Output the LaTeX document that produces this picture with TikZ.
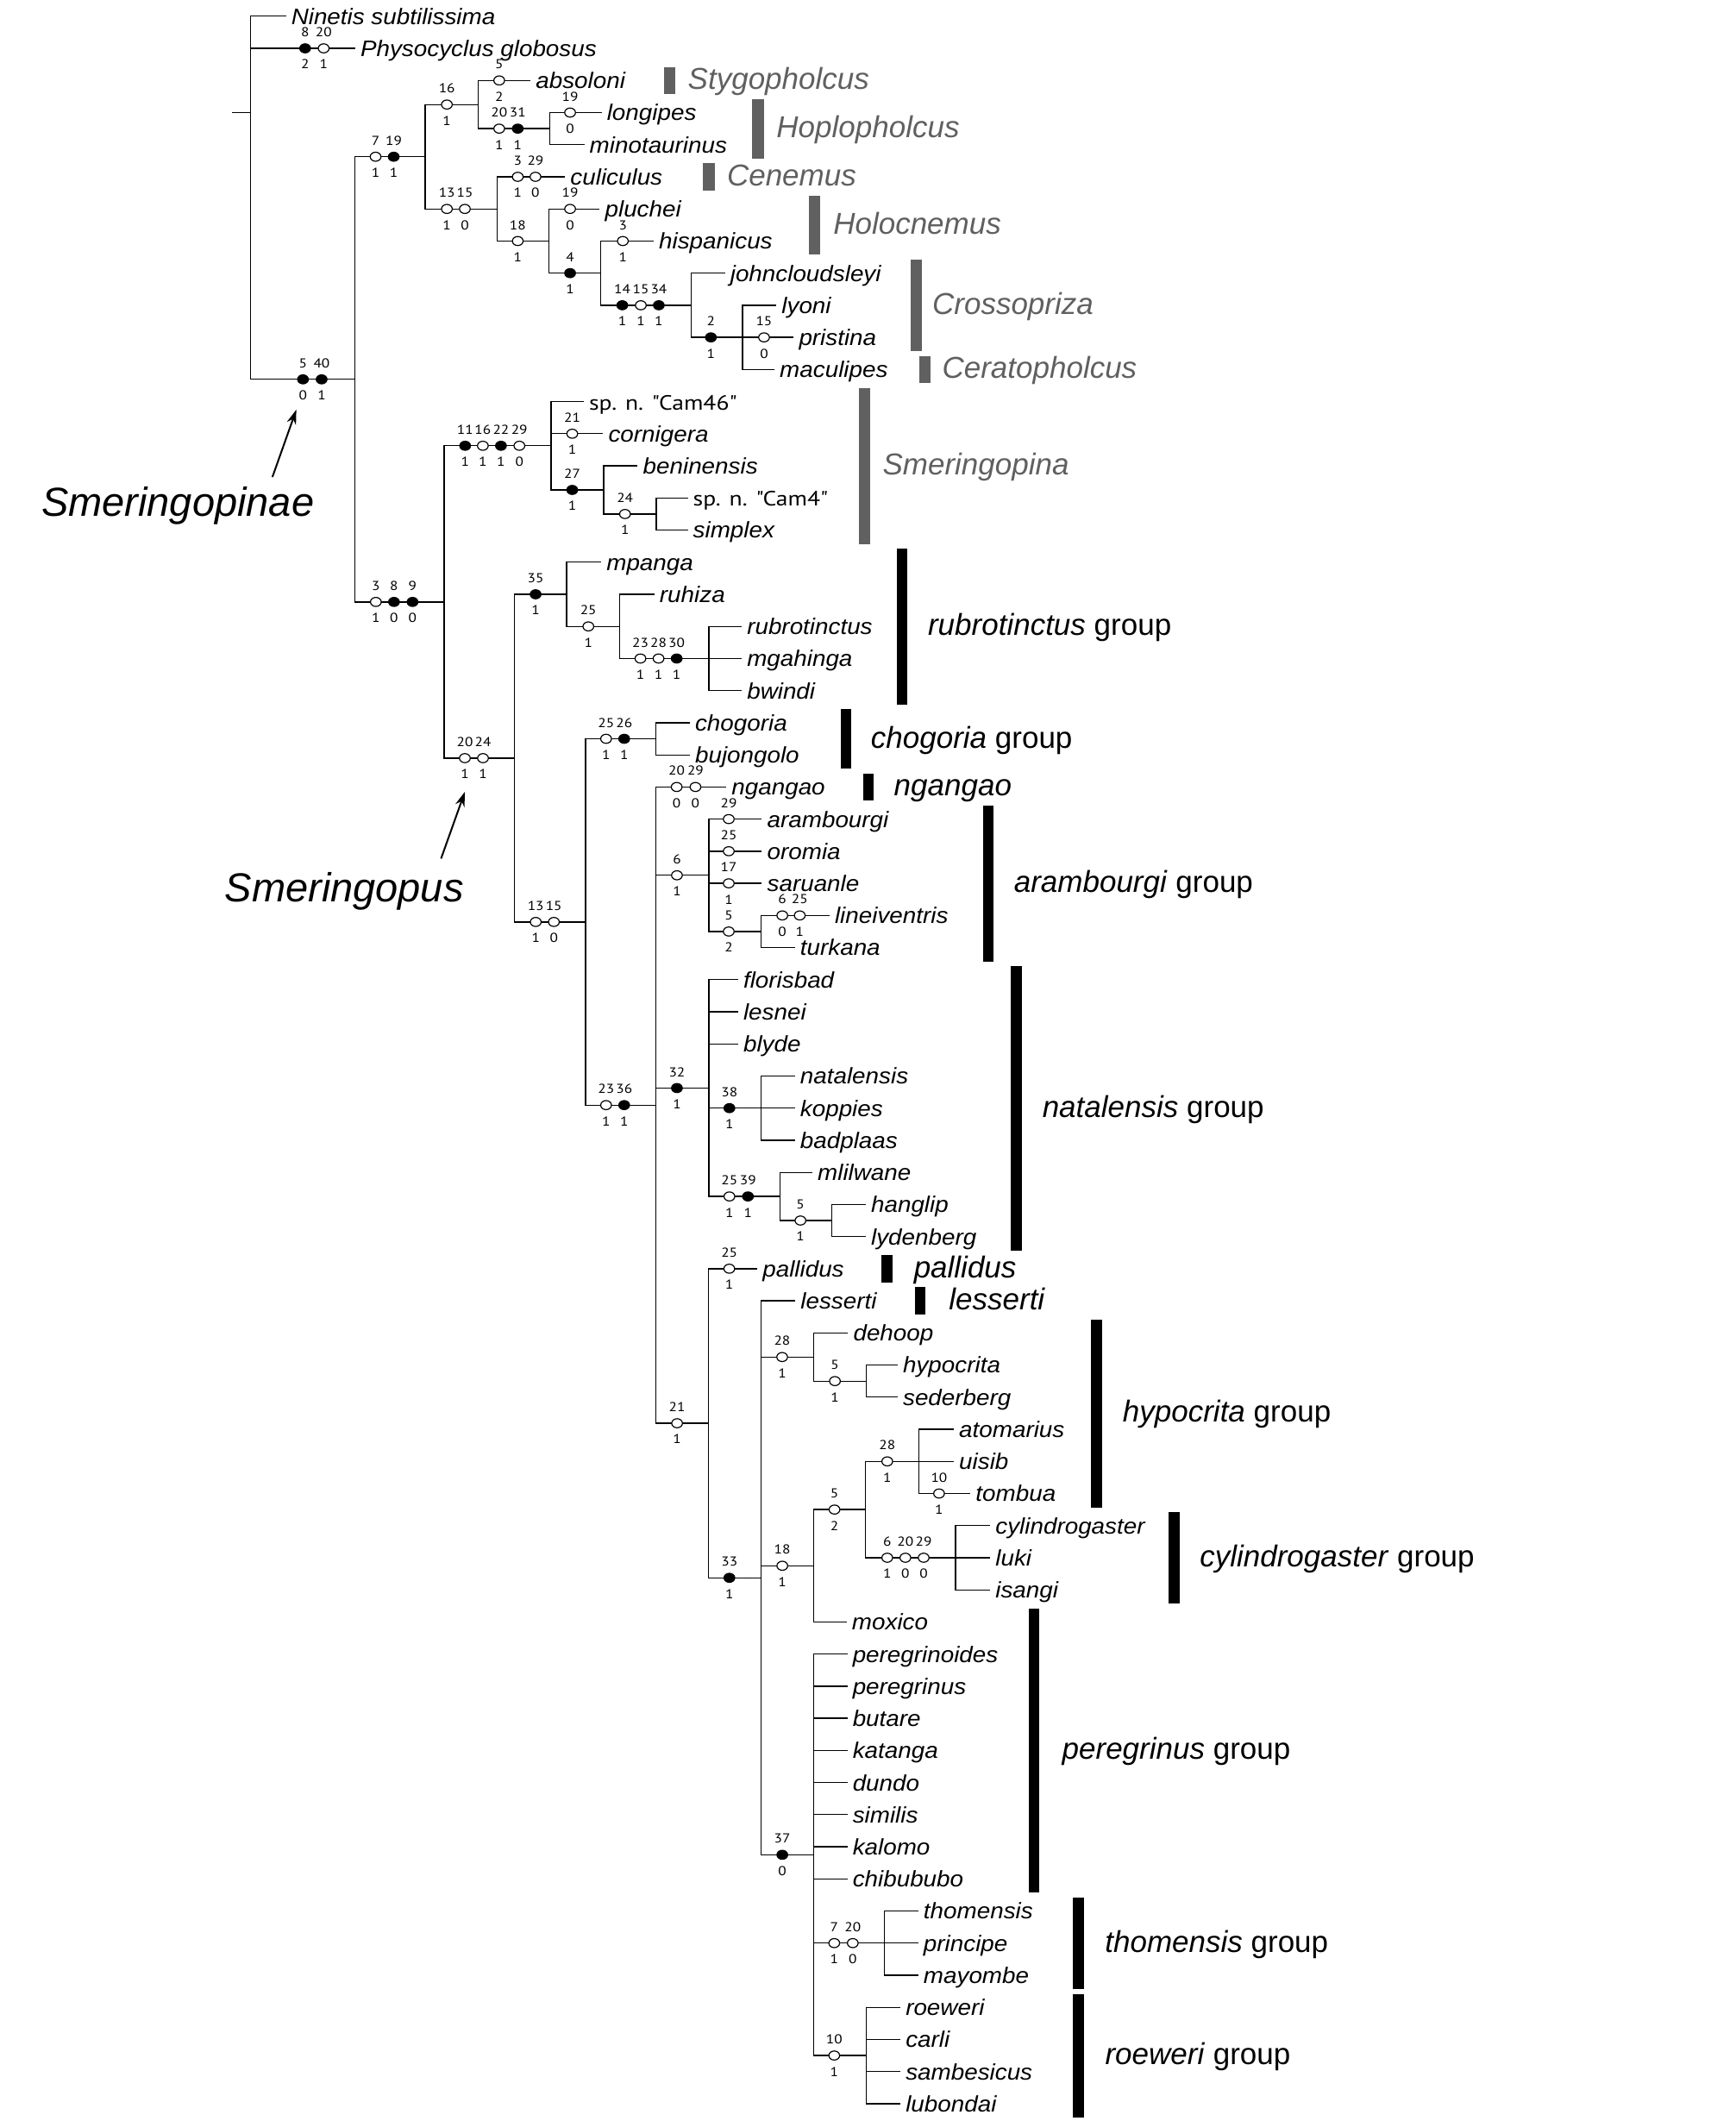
\documentclass[tikz,border=0pt]{standalone}
\usepackage{fontspec}
\setmainfont{Liberation Sans}
\newfontfamily\taxfont[FakeStretch=1.07]{Liberation Sans}
\newfontfamily\numfont[FakeStretch=1.15]{PT Sans}
\usetikzlibrary{shapes.geometric,arrows.meta}
\definecolor{grpgrey}{HTML}{606060}

\newcounter{chg}
\newcommand{\chg}[5]{\stepcounter{chg}%
  \node[#1,label={[num,yshift=7.2pt]above:#4},label={[num,yshift=-7.2pt]below:#5}] (c\thechg) at (#2,#3) {};}
\newcommand{\chgt}[4]{\stepcounter{chg}%
  \node[#1,label={[num,yshift=7.2pt]above:#4}] (c\thechg) at (#2,#3) {};}
\newcommand{\leaf}[4]{\coordinate (#1) at (#2,#3);
  \node[taxon] (#1t) at (#1) {#4};}

\tikzset{
  br/.style={line width=1.3pt},
  opn/.style={ellipse,draw,fill=white,line width=1.2pt,minimum width=12.5pt,
    minimum height=10.5pt,inner sep=0pt},
  fil/.style={opn,fill=black},
  num/.style={font=\numfont\fontsize{15}{15}\selectfont,inner sep=0pt},
  taxon/.style={font=\taxfont\fontsize{26}{28}\selectfont\itshape,anchor=base west,
    inner sep=0pt,xshift=6pt,yshift=-9.4pt},
  grp/.style={font=\fontsize{35}{40}\selectfont,anchor=base west,inner sep=0pt,yshift=-10.5pt},
  big/.style={font=\fontsize{47}{50}\selectfont\itshape,anchor=base west,inner sep=0pt,yshift=-16.8pt},
  gbar/.style={fill=grpgrey},
  bbar/.style={fill=black},
  arr/.style={line width=2pt,-{Stealth[length=17pt,width=11pt]}}
}

\begin{document}
\begin{tikzpicture}[x=1.568pt,y=-37.224pt]
\useasboundingbox (0,-0.5055) rectangle (1283,65.54);

% inner nodes of the tree
\coordinate (stub) at (171.5,3);
\coordinate (root) at (185.2,3);
\coordinate (sinae) at (262.6,11.307);
\coordinate (nA) at (314.4,4.375);
\coordinate (n16) at (353.7,2.75);
\coordinate (n2031) at (406.4,3.5);
\coordinate (n1315a) at (367.4,6);
\coordinate (n18a) at (405.8,7);
\coordinate (n4) at (444.3,8);
\coordinate (n141534) at (510.9,9);
\coordinate (n2) at (548.9,10);
\coordinate (n389) at (328.3,18.238);
\coordinate (smina) at (407.4,13.375);
\coordinate (n27) at (446.4,14.75);
\coordinate (n24) at (485.2,15.5);
\coordinate (spus) at (380.4,23.102);
\coordinate (n35) at (418.9,18);
\coordinate (n25a) at (458.2,19);
\coordinate (n232830) at (524.2,20);
\coordinate (n1315b) at (432.9,28.203);
\coordinate (n2526) at (485.1,22.5);
\coordinate (n2336) at (485.1,33.906);
\coordinate (n6a) at (524.2,26.75);
\coordinate (n5a) at (562.8,28.5);
\coordinate (n32) at (524.2,33.375);
\coordinate (n38) at (562.8,34);
\coordinate (n2539) at (576.7,36.75);
\coordinate (n5b) at (615,37.5);
\coordinate (n21) at (524,43.8125);
\coordinate (n33) at (562.5,48.625);
\coordinate (n28a) at (601.7,41.75);
\coordinate (n5c) at (640.4,42.5);
\coordinate (n18b) at (601.6,48.25);
\coordinate (n5d) at (639.9,46.5);
\coordinate (n28b) at (679.3,45);
\coordinate (n62029) at (706.5,48);
\coordinate (n37) at (601.4,57.25);
\coordinate (n720) at (653.8,60);
\coordinate (n10) at (640.3,63.5);

% terminals
\leaf{ninetis}{211.4}{0}{Ninetis subtilissima}
\leaf{physo}{262.6}{1}{Physocyclus globosus}
\leaf{absoloni}{392.2}{2}{absoloni}
\leaf{longipes}{444.8}{3}{longipes}
\leaf{minotaurinus}{432}{4}{minotaurinus}
\leaf{culiculus}{417.8}{5}{culiculus}
\leaf{pluchei}{443.4}{6}{pluchei}
\leaf{hispanicus}{483.3}{7}{hispanicus}
\leaf{johncl}{536}{8}{johncloudsleyi}
\leaf{lyoni}{574}{9}{lyoni}
\leaf{pristina}{586.8}{10}{pristina}
\leaf{maculipes}{572.6}{11}{maculipes}
\leaf{cama}{431.6}{12}{\numfont\upshape\fontsize{24}{26}\selectfont sp. n. "Cam46"}
\leaf{cornigera}{445.9}{13}{cornigera}
\leaf{beninensis}{471.5}{14}{beninensis}
\leaf{camb}{508.5}{15}{\numfont\upshape\fontsize{24}{26}\selectfont sp. n. "Cam4"}
\leaf{simplex}{508.5}{16}{simplex}
\leaf{mpanga}{444.5}{17}{mpanga}
\leaf{ruhiza}{483.8}{18}{ruhiza}
\leaf{rubrotinctus}{548.4}{19}{rubrotinctus}
\leaf{mgahinga}{548.4}{20}{mgahinga}
\leaf{bwindi}{548.4}{21}{bwindi}
\leaf{chogoria}{510}{22}{chogoria}
\leaf{bujongolo}{510}{23}{bujongolo}
\leaf{ngangao}{537}{24}{ngangao}
\leaf{arambourgi}{563.3}{25}{arambourgi}
\leaf{oromia}{563.3}{26}{oromia}
\leaf{saruanle}{563.3}{27}{saruanle}
\leaf{lineiventris}{613.3}{28}{lineiventris}
\leaf{turkana}{587.7}{29}{turkana}
\leaf{florisbad}{545.7}{30}{florisbad}
\leaf{lesnei}{545.7}{31}{lesnei}
\leaf{blyde}{545.7}{32}{blyde}
\leaf{natalensis}{587.7}{33}{natalensis}
\leaf{koppies}{587.7}{34}{koppies}
\leaf{badplaas}{587.7}{35}{badplaas}
\leaf{mlilwane}{600.6}{36}{mlilwane}
\leaf{hanglip}{640.1}{37}{hanglip}
\leaf{lydenberg}{640.1}{38}{lydenberg}
\leaf{pallidus}{559.9}{39}{pallidus}
\leaf{lesserti}{588}{40}{lesserti}
\leaf{dehoop}{627}{41}{dehoop}
\leaf{hypocrita}{663.7}{42}{hypocrita}
\leaf{sederberg}{663.7}{43}{sederberg}
\leaf{atomarius}{705.2}{44}{atomarius}
\leaf{uisib}{705.2}{45}{uisib}
\leaf{tombua}{717.5}{46}{tombua}
\leaf{cylindrogaster}{732.1}{47}{cylindrogaster}
\leaf{luki}{732.1}{48}{luki}
\leaf{isangi}{732.1}{49}{isangi}
\leaf{moxico}{626}{50}{moxico}
\leaf{peregrinoides}{626.5}{51}{peregrinoides}
\leaf{peregrinus}{626.5}{52}{peregrinus}
\leaf{butare}{626.5}{53}{butare}
\leaf{katanga}{626.5}{54}{katanga}
\leaf{dundo}{626.5}{55}{dundo}
\leaf{similis}{626.5}{56}{similis}
\leaf{kalomo}{626.5}{57}{kalomo}
\leaf{chibububo}{626.5}{58}{chibububo}
\leaf{thomensis}{678.9}{59}{thomensis}
\leaf{principe}{678.9}{60}{principe}
\leaf{mayombe}{678.9}{61}{mayombe}
\leaf{roeweri}{665.7}{62}{roeweri}
\leaf{carli}{665.7}{63}{carli}
\leaf{sambesicus}{665.7}{64}{sambesicus}
\leaf{lubondai}{665.7}{65}{lubondai}

% branches
\draw[br] (stub) -- (root);
\draw[br] (root) |- (ninetis) (root) |- (physo) (root) |- (sinae);
\draw[br] (sinae) |- (nA) (sinae) |- (n389);
\draw[br] (nA) |- (n16) (nA) |- (n1315a);
\draw[br] (n16) |- (absoloni) (n16) |- (n2031);
\draw[br] (n2031) |- (longipes) (n2031) |- (minotaurinus);
\draw[br] (n1315a) |- (culiculus) (n1315a) |- (n18a);
\draw[br] (n18a) |- (pluchei) (n18a) |- (n4);
\draw[br] (n4) |- (hispanicus) (n4) |- (n141534);
\draw[br] (n141534) |- (johncl) (n141534) |- (n2);
\draw[br] (n2) |- (lyoni) (n2) |- (pristina) (n2) |- (maculipes);
\draw[br] (n389) |- (smina) (n389) |- (spus);
\draw[br] (smina) |- (cama) (smina) |- (cornigera) (smina) |- (n27);
\draw[br] (n27) |- (beninensis) (n27) |- (n24);
\draw[br] (n24) |- (camb) (n24) |- (simplex);
\draw[br] (spus) |- (n35) (spus) |- (n1315b);
\draw[br] (n35) |- (mpanga) (n35) |- (n25a);
\draw[br] (n25a) |- (ruhiza) (n25a) |- (n232830);
\draw[br] (n232830) |- (rubrotinctus) (n232830) |- (mgahinga) (n232830) |- (bwindi);
\draw[br] (n1315b) |- (n2526) (n1315b) |- (n2336);
\draw[br] (n2526) |- (chogoria) (n2526) |- (bujongolo);
\draw[br] (n2336) |- (ngangao) (n2336) |- (n6a) (n2336) |- (n32) (n2336) |- (n21);
\draw[br] (n6a) |- (arambourgi) (n6a) |- (oromia) (n6a) |- (saruanle) (n6a) |- (n5a);
\draw[br] (n5a) |- (lineiventris) (n5a) |- (turkana);
\draw[br] (n32) |- (florisbad) (n32) |- (lesnei) (n32) |- (blyde) (n32) |- (n38) (n32) |- (n2539);
\draw[br] (n38) |- (natalensis) (n38) |- (koppies) (n38) |- (badplaas);
\draw[br] (n2539) |- (mlilwane) (n2539) |- (n5b);
\draw[br] (n5b) |- (hanglip) (n5b) |- (lydenberg);
\draw[br] (n21) |- (pallidus) (n21) |- (n33);
\draw[br] (n33) |- (lesserti) (n33) |- (n28a) (n33) |- (n18b) (n33) |- (n37);
\draw[br] (n28a) |- (dehoop) (n28a) |- (n5c);
\draw[br] (n5c) |- (hypocrita) (n5c) |- (sederberg);
\draw[br] (n18b) |- (n5d) (n18b) |- (moxico);
\draw[br] (n5d) |- (n28b) (n5d) |- (n62029);
\draw[br] (n28b) |- (atomarius) (n28b) |- (uisib) (n28b) |- (tombua);
\draw[br] (n62029) |- (cylindrogaster) (n62029) |- (luki) (n62029) |- (isangi);
\draw[br] (n37) |- (peregrinoides) (n37) |- (peregrinus) (n37) |- (butare) (n37) |- (katanga)
  (n37) |- (dundo) (n37) |- (similis) (n37) |- (kalomo) (n37) |- (chibububo)
  (n37) |- (n720) (n37) |- (n10);
\draw[br] (n720) |- (thomensis) (n720) |- (principe) (n720) |- (mayombe);
\draw[br] (n10) |- (roeweri) (n10) |- (carli) (n10) |- (sambesicus) (n10) |- (lubondai);

% character changes
\chg{fil}{225.6}{1}{8}{2}
\chg{opn}{239.3}{1}{20}{1}
\chg{fil}{224}{11.307}{5}{0}
\chg{fil}{237.8}{11.307}{40}{1}
\chg{opn}{277.7}{4.375}{7}{1}
\chg{fil}{291.1}{4.375}{19}{1}
\chg{opn}{330.4}{2.75}{16}{1}
\chg{opn}{369.1}{2}{5}{2}
\chg{opn}{369.1}{3.5}{20}{1}
\chg{fil}{382.8}{3.5}{31}{1}
\chg{opn}{421.5}{3}{19}{0}
\chg{opn}{330.4}{6}{13}{1}
\chg{opn}{343.7}{6}{15}{0}
\chg{opn}{382.8}{5}{3}{1}
\chg{opn}{395.9}{5}{29}{0}
\chg{opn}{382.8}{7}{18}{1}
\chg{opn}{421.5}{6}{19}{0}
\chg{fil}{421.5}{8}{4}{1}
\chg{opn}{460.5}{7}{3}{1}
\chg{fil}{460.1}{9}{14}{1}
\chg{opn}{473.8}{9}{15}{1}
\chg{fil}{487.1}{9}{34}{1}
\chg{fil}{525.6}{10}{2}{1}
\chg{opn}{564.9}{10}{15}{0}
\chg{opn}{277.9}{18.238}{3}{1}
\chg{fil}{291.3}{18.238}{8}{0}
\chg{fil}{305}{18.238}{9}{0}
\chg{fil}{343.9}{13.375}{11}{1}
\chg{opn}{357}{13.375}{16}{1}
\chg{fil}{370.4}{13.375}{22}{1}
\chg{opn}{384}{13.375}{29}{0}
\chg{opn}{423.1}{13}{21}{1}
\chg{fil}{423.1}{14.75}{27}{1}
\chg{opn}{462.1}{15.5}{24}{1}
\chg{opn}{343.7}{23.102}{20}{1}
\chg{opn}{357.1}{23.102}{24}{1}
\chg{fil}{396}{18}{35}{1}
\chg{opn}{435}{19}{25}{1}
\chg{opn}{473.5}{20}{23}{1}
\chg{opn}{486.9}{20}{28}{1}
\chg{fil}{500.3}{20}{30}{1}
\chg{opn}{396.1}{28.203}{13}{1}
\chg{opn}{409.5}{28.203}{15}{0}
\chg{opn}{448.1}{22.5}{25}{1}
\chg{fil}{461.5}{22.5}{26}{1}
\chg{opn}{448.1}{33.906}{23}{1}
\chg{fil}{461.5}{33.906}{36}{1}
\chg{opn}{500.3}{24}{20}{0}
\chg{opn}{514.2}{24}{29}{0}
\chg{opn}{500.5}{26.75}{6}{1}
\chgt{opn}{538.8}{25}{29}
\chgt{opn}{538.8}{26}{25}
\chg{opn}{538.8}{27}{17}{1}
\chg{opn}{538.8}{28.5}{5}{2}
\chg{opn}{578.4}{28}{6}{0}
\chg{opn}{591.3}{28}{25}{1}
\chg{fil}{500.5}{33.375}{32}{1}
\chg{fil}{539.3}{34}{38}{1}
\chg{opn}{539.3}{36.75}{25}{1}
\chg{fil}{553}{36.75}{39}{1}
\chg{opn}{591.8}{37.5}{5}{1}
\chg{opn}{500.6}{43.8125}{21}{1}
\chg{opn}{539.2}{39}{25}{1}
\chg{fil}{539.3}{48.625}{33}{1}
\chg{opn}{578.3}{41.75}{28}{1}
\chg{opn}{617.3}{42.5}{5}{1}
\chg{opn}{578.4}{48.25}{18}{1}
\chg{opn}{617}{46.5}{5}{2}
\chg{opn}{656}{45}{28}{1}
\chg{opn}{694.3}{46}{10}{1}
\chg{opn}{656}{48}{6}{1}
\chg{opn}{669.4}{48}{20}{0}
\chg{opn}{682.9}{48}{29}{0}
\chg{fil}{578.4}{57.25}{37}{0}
\chg{opn}{616.8}{60}{7}{1}
\chg{opn}{630.5}{60}{20}{0}
\chg{opn}{616.8}{63.5}{10}{1}

% genera (grey) and species groups (black)
\fill[gbar] (490.7,1.58) rectangle (499.3,2.43);
\fill[gbar] (556.1,2.58) rectangle (564.7,4.43);
\fill[gbar] (519.5,4.58) rectangle (528.6,5.43);
\fill[gbar] (598.1,5.58) rectangle (606.2,7.43);
\fill[gbar] (673.3,7.58) rectangle (681.8,10.43);
\fill[gbar] (679.4,10.58) rectangle (688,11.43);
\fill[gbar] (635,11.58) rectangle (643.5,16.43);
\fill[bbar] (663,16.58) rectangle (670.5,21.43);
\fill[bbar] (621.4,21.58) rectangle (629.2,23.43);
\fill[bbar] (638.2,23.58) rectangle (646.2,24.43);
\fill[bbar] (726.8,24.58) rectangle (734.6,29.43);
\fill[bbar] (747.5,29.58) rectangle (755.6,38.43);
\fill[bbar] (651.7,38.58) rectangle (660.2,39.43);
\fill[bbar] (676.6,39.58) rectangle (684.4,40.43);
\fill[bbar] (806.8,40.58) rectangle (815,46.43);
\fill[bbar] (864,46.58) rectangle (872,49.43);
\fill[bbar] (760.8,49.58) rectangle (768.6,58.43);
\fill[bbar] (793.1,58.58) rectangle (801.6,61.43);
\fill[bbar] (793.1,61.58) rectangle (801.6,65.43);

\node[grp,grpgrey] (gstygo) at (508.5,2) {\itshape Stygopholcus};
\node[grp,grpgrey] (ghoplo) at (574,3.5) {\itshape Hoplopholcus};
\node[grp,grpgrey] (gcenem) at (537.4,5) {\itshape Cenemus};
\node[grp,grpgrey] (gholoc) at (616,6.5) {\itshape Holocnemus};
\node[grp,grpgrey] (gcross) at (689.2,9) {\itshape Crossopriza};
\node[grp,grpgrey] (gcerat) at (696.5,11) {\itshape Ceratopholcus};
\node[grp,grpgrey] (gsmina) at (652.5,14) {\itshape Smeringopina};
\node[grp] (grubro) at (686,19) {\textit{rubrotinctus} group};
\node[grp] (gchogo) at (643.8,22.5) {\textit{chogoria} group};
\node[grp] (gngang) at (660.9,24) {\textit{ngangao}};
\node[grp] (garamb) at (749.6,27) {\textit{arambourgi} group};
\node[grp] (gnatal) at (770.6,34) {\textit{natalensis} group};
\node[grp] (gpalli) at (675.6,39) {\textit{pallidus}};
\node[grp] (gless) at (701.5,40) {\textit{lesserti}};
\node[grp] (ghypo) at (830,43.5) {\textit{hypocrita} group};
\node[grp] (gcylin) at (887,48) {\textit{cylindrogaster} group};
\node[grp] (gpere) at (785.2,54) {\textit{peregrinus} group};
\node[grp] (gthom) at (816.9,60) {\textit{thomensis} group};
\node[grp] (groew) at (817,63.5) {\textit{roeweri} group};

% clade names
\node[big] (sinaelab) at (30.5,15.12) {Smeringopinae};
\node[big] (spuslab) at (166.1,27.13) {Smeringopus};
\coordinate (sinaetail) at (201.4,14.35);
\coordinate (sinaetip) at (219.1,12.25);
\coordinate (spustail) at (326.1,26.23);
\coordinate (spustip) at (343.7,24.15);
\draw[arr] (sinaetail) -- (sinaetip);
\draw[arr] (spustail) -- (spustip);

\end{tikzpicture}
\end{document}
